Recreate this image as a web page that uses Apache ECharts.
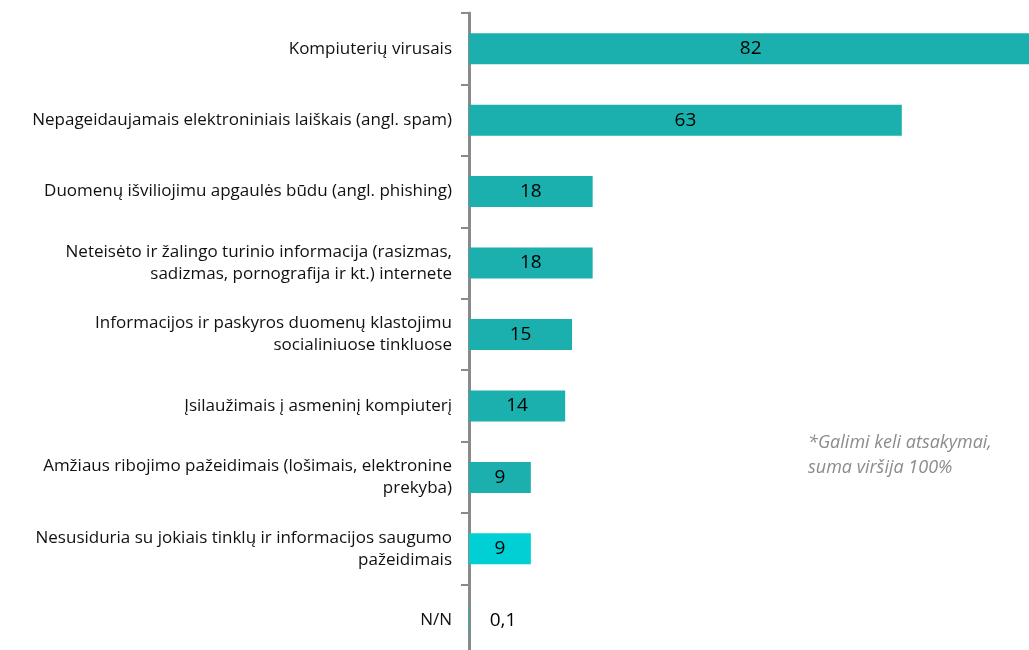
<!DOCTYPE html>
<html>
<head>
<meta charset="utf-8">
<script src="https://cdn.jsdelivr.net/npm/echarts@6/dist/echarts.min.js"></script>
<style>
  html, body { margin: 0; padding: 0; background: #fff; }
  #chart { width: 1029px; height: 650px; }
</style>
</head>
<body>
<div id="chart"></div>
<script>
// kategorijos (iš viršaus į apačią)
const kategorijos = [
    'Kompiuterių virusais',
    'Nepageidaujamais elektroniniais laiškais (angl. spam)',
    'Duomenų išviliojimu apgaulės būdu (angl. phishing)',
    'Neteisėto ir žalingo turinio informacija (rasizmas,\nsadizmas, pornografija ir kt.) internete',
    'Informacijos ir paskyros duomenų klastojimu\nsocialiniuose tinkluose',
    'Įsilaužimais į asmeninį kompiuterį',
    'Amžiaus ribojimo pažeidimais (lošimais, elektronine\nprekyba)',
    'Nesusiduria su jokiais tinklų ir informacijos saugumo\npažeidimais',
    'N/N'
];
const reiksmes = [82, 63, 18, 18, 15, 14, 9, 9, 0.1];
const pastaba = ['*Galimi keli atsakymai,', 'suma viršija 100%'];

const spalva = '#1bb0ae';
const spalvaNesusiduria = '#00cfd3';

const chartDom = document.getElementById('chart');
const myChart = echarts.init(chartDom, null, { renderer: 'canvas' });

const duomenys = reiksmes.map((v, i) => {
    const item = { value: v };
    if (i === 7) {
        item.itemStyle = { color: spalvaNesusiduria };
    }
    if (v < 1) {
        // labai maža reikšmė - etiketė dešinėje
        item.label = { position: 'right', distance: 20 };
    }
    return item;
});

const option = {
    animation: false,
    grid: {
        left: 469,
        top: 13,
        width: 687,
        height: 643,
        outerBoundsMode: 'none'
    },
    xAxis: {
        type: 'value',
        min: 0,
        max: 100,
        show: false
    },
    yAxis: {
        type: 'category',
        data: kategorijos,
        inverse: true,
        axisLine: { show: true, lineStyle: { color: '#8a8a8a', width: 3 } },
        axisTick: { show: true, length: 8, lineStyle: { color: '#8a8a8a', width: 2 } },
        axisLabel: {
            margin: 17,
            fontFamily: 'Open Sans',
            fontSize: 17,
            color: '#111',
            lineHeight: 22,
            align: 'right'
        }
    },
    series: [
        {
            type: 'bar',
            data: duomenys,
            barWidth: 31,
            itemStyle: { color: spalva },
            label: {
                show: true,
                position: 'inside',
                color: '#000',
                fontFamily: 'Open Sans',
                fontSize: 19,
                formatter: p => String(p.value).replace('.', ',')
            }
        }
    ],
    graphic: [
        {
            type: 'text',
            left: 808,
            top: 430,
            style: {
                text: pastaba.join('\n'),
                font: 'italic 18px "Open Sans"',
                lineHeight: 25,
                fill: '#8c8c8c'
            }
        }
    ]
};

myChart.setOption(option);
</script>
</body>
</html>
